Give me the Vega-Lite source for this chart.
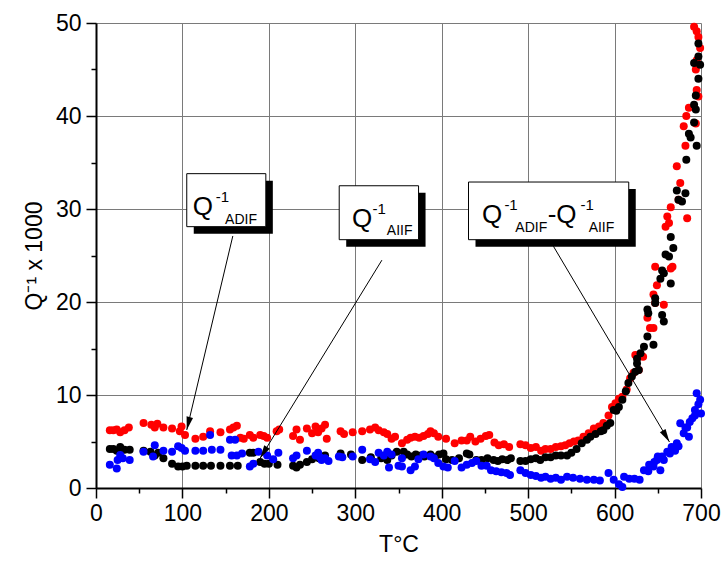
{
  "$schema": "https://vega.github.io/schema/vega-lite/v6.json",
  "width": 605,
  "height": 465,
  "autosize": {"type": "none"},
  "padding": {"left": 96, "top": 23, "right": 25, "bottom": 74},
  "background": "white",
  "config": {"view": {"stroke": null}, "font": "Liberation Sans"},
  "datasets": {
    "pts": [
      {"s":"r","t":16,"q":6.2},{"s":"r","t":20,"q":6.2},{"s":"r","t":24,"q":6.3},{"s":"r","t":28,"q":6.0},{"s":"r","t":33,"q":6.2},{"s":"r","t":38,"q":6.5},{"s":"r","t":55,"q":7.0},{"s":"r","t":64,"q":6.8},{"s":"r","t":68,"q":6.5},{"s":"r","t":71,"q":6.9},{"s":"r","t":78,"q":6.5},{"s":"r","t":88,"q":6.4},{"s":"r","t":97,"q":6.1},{"s":"r","t":99,"q":6.6},{"s":"r","t":103,"q":5.7},{"s":"r","t":115,"q":5.3},{"s":"r","t":124,"q":5.5},{"s":"r","t":132,"q":6.1},{"s":"r","t":144,"q":6.0},{"s":"r","t":155,"q":6.3},{"s":"r","t":159,"q":6.5},{"s":"r","t":163,"q":6.7},{"s":"r","t":167,"q":5.4},{"s":"r","t":171,"q":5.3},{"s":"r","t":178,"q":5.7},{"s":"r","t":182,"q":5.4},{"s":"r","t":190,"q":5.7},{"s":"r","t":194,"q":5.6},{"s":"r","t":198,"q":5.4},{"s":"r","t":209,"q":6.1},{"s":"r","t":212,"q":6.3},{"s":"r","t":228,"q":5.6},{"s":"r","t":232,"q":6.3},{"s":"r","t":236,"q":5.2},{"s":"r","t":244,"q":6.4},{"s":"r","t":250,"q":5.9},{"s":"r","t":254,"q":6.6},{"s":"r","t":257,"q":6.0},{"s":"r","t":261,"q":6.4},{"s":"r","t":265,"q":6.8},{"s":"r","t":267,"q":5.3},{"s":"r","t":283,"q":6.1},{"s":"r","t":287,"q":5.8},{"s":"r","t":297,"q":6.0},{"s":"r","t":308,"q":6.1},{"s":"r","t":317,"q":6.3},{"s":"r","t":323,"q":6.5},{"s":"r","t":327,"q":6.2},{"s":"r","t":333,"q":6.0},{"s":"r","t":337,"q":5.8},{"s":"r","t":342,"q":5.3},{"s":"r","t":346,"q":5.5},{"s":"r","t":354,"q":4.8},{"s":"r","t":360,"q":5.2},{"s":"r","t":364,"q":5.4},{"s":"r","t":369,"q":5.5},{"s":"r","t":374,"q":5.4},{"s":"r","t":379,"q":5.6},{"s":"r","t":384,"q":5.8},{"s":"r","t":387,"q":6.1},{"s":"r","t":391,"q":5.9},{"s":"r","t":396,"q":5.5},{"s":"r","t":405,"q":5.3},{"s":"r","t":415,"q":4.8},{"s":"r","t":423,"q":5.1},{"s":"r","t":429,"q":5.1},{"s":"r","t":433,"q":5.5},{"s":"r","t":439,"q":5.0},{"s":"r","t":445,"q":5.3},{"s":"r","t":451,"q":5.6},{"s":"r","t":455,"q":5.7},{"s":"r","t":461,"q":4.9},{"s":"r","t":466,"q":4.6},{"s":"r","t":472,"q":4.7},{"s":"r","t":478,"q":4.4},{"s":"r","t":491,"q":4.7},{"s":"r","t":497,"q":4.6},{"s":"r","t":503,"q":4.3},{"s":"r","t":509,"q":4.4},{"s":"r","t":515,"q":4.0},{"s":"r","t":520,"q":4.2},{"s":"r","t":526,"q":4.2},{"s":"r","t":532,"q":4.4},{"s":"r","t":538,"q":4.5},{"s":"r","t":543,"q":4.6},{"s":"r","t":548,"q":4.8},{"s":"r","t":553,"q":5.0},{"s":"r","t":558,"q":5.1},{"s":"r","t":564,"q":5.5},{"s":"r","t":570,"q":5.9},{"s":"r","t":576,"q":6.4},{"s":"r","t":582,"q":6.6},{"s":"r","t":587,"q":7.0},{"s":"r","t":593,"q":7.8},{"s":"r","t":597,"q":8.7},{"s":"r","t":601,"q":9.1},{"s":"r","t":605,"q":9.6},{"s":"r","t":609,"q":9.8},{"s":"r","t":614,"q":10.6},{"s":"r","t":618,"q":11.8},{"s":"r","t":622,"q":12.4},{"s":"r","t":624,"q":14.3},{"s":"r","t":628,"q":12.7},{"s":"r","t":633,"q":14.1},{"s":"r","t":638,"q":18.3},{"s":"r","t":641,"q":17.2},{"s":"r","t":645,"q":17.2},{"s":"r","t":645,"q":20.8},{"s":"r","t":647,"q":19.9},{"s":"r","t":649,"q":21.8},{"s":"r","t":647,"q":23.8},{"s":"r","t":657,"q":19.7},{"s":"r","t":665,"q":23.6},{"s":"r","t":667,"q":23.8},{"s":"r","t":659,"q":28.1},{"s":"r","t":663,"q":28.5},{"s":"r","t":661,"q":29.2},{"s":"r","t":665,"q":30.2},{"s":"r","t":684,"q":29.0},{"s":"r","t":674,"q":31.0},{"s":"r","t":676,"q":32.8},{"s":"r","t":672,"q":34.6},{"s":"r","t":682,"q":36.8},{"s":"r","t":680,"q":38.9},{"s":"r","t":683,"q":40.0},{"s":"r","t":686,"q":40.9},{"s":"r","t":694,"q":39.2},{"s":"r","t":697,"q":42.1},{"s":"r","t":694,"q":45.0},{"s":"r","t":695,"q":46.0},{"s":"r","t":699,"q":47.3},{"s":"r","t":697,"q":48.5},{"s":"r","t":692,"q":49.6},{"s":"r","t":695,"q":49.1},{"s":"r","t":695,"q":42.8},
      {"s":"k","t":16,"q":4.2},{"s":"k","t":20,"q":4.2},{"s":"k","t":24,"q":4.0},{"s":"k","t":28,"q":4.4},{"s":"k","t":33,"q":4.1},{"s":"k","t":39,"q":4.1},{"s":"k","t":55,"q":4.0},{"s":"k","t":63,"q":3.9},{"s":"k","t":68,"q":3.5},{"s":"k","t":72,"q":3.8},{"s":"k","t":78,"q":3.2},{"s":"k","t":88,"q":2.6},{"s":"k","t":95,"q":2.3},{"s":"k","t":100,"q":2.3},{"s":"k","t":105,"q":2.4},{"s":"k","t":115,"q":2.4},{"s":"k","t":124,"q":2.4},{"s":"k","t":133,"q":2.4},{"s":"k","t":144,"q":2.4},{"s":"k","t":155,"q":2.4},{"s":"k","t":164,"q":2.4},{"s":"k","t":178,"q":3.8},{"s":"k","t":182,"q":3.8},{"s":"k","t":190,"q":2.8},{"s":"k","t":195,"q":2.6},{"s":"k","t":200,"q":2.6},{"s":"k","t":210,"q":2.5},{"s":"k","t":228,"q":2.4},{"s":"k","t":232,"q":2.2},{"s":"k","t":236,"q":2.5},{"s":"k","t":244,"q":2.8},{"s":"k","t":250,"q":3.1},{"s":"k","t":258,"q":3.2},{"s":"k","t":265,"q":3.5},{"s":"k","t":283,"q":3.7},{"s":"k","t":295,"q":3.6},{"s":"k","t":308,"q":3.0},{"s":"k","t":318,"q":3.3},{"s":"k","t":330,"q":3.2},{"s":"k","t":337,"q":3.0},{"s":"k","t":342,"q":3.5},{"s":"k","t":348,"q":3.9},{"s":"k","t":356,"q":3.9},{"s":"k","t":360,"q":3.6},{"s":"k","t":365,"q":3.4},{"s":"k","t":370,"q":3.6},{"s":"k","t":376,"q":3.5},{"s":"k","t":380,"q":3.4},{"s":"k","t":387,"q":3.6},{"s":"k","t":392,"q":3.3},{"s":"k","t":397,"q":3.6},{"s":"k","t":402,"q":3.7},{"s":"k","t":405,"q":3.1},{"s":"k","t":412,"q":3.0},{"s":"k","t":420,"q":3.2},{"s":"k","t":429,"q":3.7},{"s":"k","t":432,"q":3.6},{"s":"k","t":440,"q":3.0},{"s":"k","t":446,"q":3.0},{"s":"k","t":453,"q":3.2},{"s":"k","t":460,"q":3.0},{"s":"k","t":465,"q":2.9},{"s":"k","t":470,"q":3.1},{"s":"k","t":476,"q":3.0},{"s":"k","t":480,"q":3.2},{"s":"k","t":491,"q":2.9},{"s":"k","t":497,"q":2.9},{"s":"k","t":503,"q":3.1},{"s":"k","t":509,"q":3.2},{"s":"k","t":514,"q":3.0},{"s":"k","t":520,"q":3.3},{"s":"k","t":526,"q":3.3},{"s":"k","t":532,"q":3.5},{"s":"k","t":538,"q":3.5},{"s":"k","t":545,"q":3.5},{"s":"k","t":550,"q":3.8},{"s":"k","t":556,"q":4.2},{"s":"k","t":562,"q":4.8},{"s":"k","t":568,"q":5.2},{"s":"k","t":572,"q":5.5},{"s":"k","t":578,"q":5.8},{"s":"k","t":584,"q":6.1},{"s":"k","t":587,"q":6.2},{"s":"k","t":591,"q":6.7},{"s":"k","t":595,"q":7.0},{"s":"k","t":599,"q":8.4},{"s":"k","t":602,"q":8.3},{"s":"k","t":605,"q":8.7},{"s":"k","t":609,"q":9.5},{"s":"k","t":613,"q":10.4},{"s":"k","t":616,"q":11.3},{"s":"k","t":620,"q":12.0},{"s":"k","t":624,"q":12.5},{"s":"k","t":626,"q":13.4},{"s":"k","t":628,"q":12.7},{"s":"k","t":626,"q":13.9},{"s":"k","t":630,"q":14.5},{"s":"k","t":634,"q":15.2},{"s":"k","t":638,"q":16.3},{"s":"k","t":645,"q":15.4},{"s":"k","t":639,"q":18.8},{"s":"k","t":638,"q":19.2},{"s":"k","t":647,"q":19.9},{"s":"k","t":655,"q":18.6},{"s":"k","t":657,"q":17.9},{"s":"k","t":647,"q":20.4},{"s":"k","t":653,"q":22.5},{"s":"k","t":665,"q":22.0},{"s":"k","t":657,"q":23.1},{"s":"k","t":655,"q":23.4},{"s":"k","t":659,"q":25.1},{"s":"k","t":663,"q":24.9},{"s":"k","t":668,"q":25.8},{"s":"k","t":665,"q":27.0},{"s":"k","t":674,"q":31.0},{"s":"k","t":672,"q":32.0},{"s":"k","t":682,"q":31.7},{"s":"k","t":678,"q":30.8},{"s":"k","t":683,"q":35.3},{"s":"k","t":686,"q":38.1},{"s":"k","t":688,"q":37.7},{"s":"k","t":692,"q":39.3},{"s":"k","t":695,"q":36.8},{"s":"k","t":694,"q":40.7},{"s":"k","t":692,"q":41.2},{"s":"k","t":694,"q":42.2},{"s":"k","t":697,"q":44.0},{"s":"k","t":692,"q":45.7},{"s":"k","t":697,"q":46.4},{"s":"k","t":699,"q":45.5},{"s":"k","t":697,"q":47.8},
      {"s":"b","t":16,"q":2.5},{"s":"b","t":24,"q":2.1},{"s":"b","t":25,"q":3.0},{"s":"b","t":28,"q":3.55},{"s":"b","t":31,"q":3.2},{"s":"b","t":39,"q":3.0},{"s":"b","t":55,"q":3.9},{"s":"b","t":66,"q":3.4},{"s":"b","t":68,"q":4.6},{"s":"b","t":78,"q":4.0},{"s":"b","t":88,"q":3.9},{"s":"b","t":95,"q":4.5},{"s":"b","t":99,"q":4.3},{"s":"b","t":103,"q":4.0},{"s":"b","t":115,"q":4.0},{"s":"b","t":124,"q":4.0},{"s":"b","t":132,"q":5.7},{"s":"b","t":134,"q":4.1},{"s":"b","t":144,"q":4.1},{"s":"b","t":155,"q":5.2},{"s":"b","t":161,"q":5.2},{"s":"b","t":157,"q":3.5},{"s":"b","t":163,"q":3.5},{"s":"b","t":169,"q":3.7},{"s":"b","t":178,"q":2.3},{"s":"b","t":182,"q":2.6},{"s":"b","t":188,"q":3.9},{"s":"b","t":198,"q":3.5},{"s":"b","t":205,"q":3.1},{"s":"b","t":211,"q":3.8},{"s":"b","t":228,"q":3.2},{"s":"b","t":232,"q":3.5},{"s":"b","t":244,"q":4.0},{"s":"b","t":254,"q":3.5},{"s":"b","t":257,"q":3.8},{"s":"b","t":259,"q":3.3},{"s":"b","t":261,"q":3.0},{"s":"b","t":265,"q":3.2},{"s":"b","t":269,"q":2.9},{"s":"b","t":281,"q":3.4},{"s":"b","t":285,"q":3.3},{"s":"b","t":297,"q":3.4},{"s":"b","t":308,"q":4.1},{"s":"b","t":317,"q":3.1},{"s":"b","t":323,"q":2.8},{"s":"b","t":327,"q":3.8},{"s":"b","t":333,"q":3.5},{"s":"b","t":337,"q":3.9},{"s":"b","t":339,"q":2.2},{"s":"b","t":342,"q":3.6},{"s":"b","t":350,"q":2.4},{"s":"b","t":354,"q":3.2},{"s":"b","t":354,"q":2.3},{"s":"b","t":364,"q":1.9},{"s":"b","t":369,"q":2.3},{"s":"b","t":373,"q":3.1},{"s":"b","t":379,"q":3.6},{"s":"b","t":387,"q":3.4},{"s":"b","t":391,"q":3.2},{"s":"b","t":396,"q":2.7},{"s":"b","t":402,"q":2.3},{"s":"b","t":407,"q":2.2},{"s":"b","t":415,"q":2.9},{"s":"b","t":423,"q":2.2},{"s":"b","t":429,"q":2.5},{"s":"b","t":435,"q":2.7},{"s":"b","t":440,"q":2.9},{"s":"b","t":446,"q":2.4},{"s":"b","t":452,"q":2.4},{"s":"b","t":457,"q":1.9},{"s":"b","t":463,"q":1.8},{"s":"b","t":469,"q":1.7},{"s":"b","t":475,"q":1.6},{"s":"b","t":479,"q":1.4},{"s":"b","t":491,"q":1.9},{"s":"b","t":497,"q":1.6},{"s":"b","t":503,"q":1.4},{"s":"b","t":509,"q":1.3},{"s":"b","t":515,"q":1.1},{"s":"b","t":520,"q":1.2},{"s":"b","t":526,"q":1.0},{"s":"b","t":532,"q":1.1},{"s":"b","t":538,"q":0.9},{"s":"b","t":545,"q":1.2},{"s":"b","t":552,"q":1.1},{"s":"b","t":560,"q":1.0},{"s":"b","t":568,"q":0.9},{"s":"b","t":576,"q":0.9},{"s":"b","t":583,"q":0.8},{"s":"b","t":593,"q":1.6},{"s":"b","t":599,"q":0.9},{"s":"b","t":605,"q":0.4},{"s":"b","t":609,"q":0.1},{"s":"b","t":611,"q":1.2},{"s":"b","t":617,"q":1.0},{"s":"b","t":623,"q":1.0},{"s":"b","t":629,"q":0.9},{"s":"b","t":634,"q":1.9},{"s":"b","t":639,"q":1.8},{"s":"b","t":640,"q":2.5},{"s":"b","t":645,"q":2.3},{"s":"b","t":646,"q":2.8},{"s":"b","t":649,"q":3.0},{"s":"b","t":650,"q":3.4},{"s":"b","t":653,"q":1.9},{"s":"b","t":655,"q":3.4},{"s":"b","t":657,"q":3.0},{"s":"b","t":661,"q":3.9},{"s":"b","t":664,"q":3.7},{"s":"b","t":666,"q":4.4},{"s":"b","t":670,"q":4.0},{"s":"b","t":672,"q":4.8},{"s":"b","t":674,"q":4.5},{"s":"b","t":676,"q":6.95},{"s":"b","t":680,"q":5.9},{"s":"b","t":682,"q":6.5},{"s":"b","t":684,"q":6.5},{"s":"b","t":686,"q":5.5},{"s":"b","t":687,"q":7.1},{"s":"b","t":690,"q":7.5},{"s":"b","t":693,"q":8.4},{"s":"b","t":693,"q":7.8},{"s":"b","t":695,"q":10.2},{"s":"b","t":697,"q":9.0},{"s":"b","t":699,"q":9.5},{"s":"b","t":700,"q":8.0}
    ],
    "arrows": [
      {"id":1,"t":158.3,"q":27.1,"t2":105,"q2":6.24},
      {"id":2,"t":330.8,"q":24.5,"t2":189.9,"q2":3.2},
      {"id":3,"t":529.2,"q":26.0,"t2":663.5,"q2":4.95}
    ],
    "boxes": [
      {"t":105,"t2":196.5,"q":33.8,"q2":28.1},
      {"t":281.4,"t2":373.2,"q":32.5,"q2":26.7},
      {"t":431,"t2":616.4,"q":32.9,"q2":26.7}
    ],
    "big": [
      {"t":112,"q":29.35,"txt":"Q"},
      {"t":296.2,"q":28.1,"txt":"Q"},
      {"t":446.6,"q":28.46,"txt":"Q"},
      {"t":522.6,"q":28.46,"txt":"-Q"}
    ],
    "sup": [
      {"t":138.5,"q":30.8,"txt":"-1"},
      {"t":320,"q":29.5,"txt":"-1"},
      {"t":472.5,"q":29.9,"txt":"-1"},
      {"t":560.5,"q":29.9,"txt":"-1"}
    ],
    "sub": [
      {"t":149.4,"q":28.4,"txt":"ADIF"},
      {"t":336.5,"q":27.2,"txt":"AIIF"},
      {"t":485.2,"q":27.56,"txt":"ADIF"},
      {"t":570,"q":27.56,"txt":"AIIF"}
    ]
  },
  "layer": [
    {
      "data": {"name": "pts"},
      "mark": {"type": "point", "filled": true, "shape": "circle", "size": 64, "opacity": 1, "strokeWidth": 0},
      "encoding": {
        "x": {"field": "t", "type": "quantitative",
          "scale": {"domain": [0, 700], "nice": false, "zero": false},
          "axis": {
            "title": "T°C",
            "values": [0,50,100,150,200,250,300,350,400,450,500,550,600,650,700],
            "labelExpr": "datum.value % 100 === 0 ? datum.label : ''",
            "labelOverlap": false, "labelFlush": false,
            "labelFont": "Liberation Sans", "labelFontSize": 23, "labelColor": "black", "labelPadding": 4,
            "tickSize": {"condition": {"test": "datum.value % 100 !== 0", "value": 5}, "value": 10},
            "tickColor": "black", "tickWidth": 1.5,
            "domainColor": "black", "domainWidth": 2,
            "grid": true, "gridColor": "#7a7a7a", "gridWidth": 1,
            "gridOpacity": {"condition": {"test": "datum.value % 100 !== 0", "value": 0}, "value": 1},
            "titleFont": "Liberation Sans", "titleFontSize": 23, "titleFontWeight": "normal", "titleColor": "black", "titlePadding": 8
          }},
        "y": {"field": "q", "type": "quantitative",
          "scale": {"domain": [0, 50], "nice": false},
          "axis": {
            "title": "Q⁻¹ x 1000",
            "values": [0,5,10,15,20,25,30,35,40,45,50],
            "labelExpr": "datum.value % 10 === 0 ? datum.label : ''",
            "labelOverlap": false, "labelFlush": false,
            "labelFont": "Liberation Sans", "labelFontSize": 23, "labelColor": "black", "labelPadding": 5,
            "tickSize": {"condition": {"test": "datum.value % 10 !== 0", "value": 5}, "value": 10},
            "tickColor": "black", "tickWidth": 1.5,
            "domainColor": "black", "domainWidth": 2,
            "grid": true, "gridColor": "#7a7a7a", "gridWidth": 1,
            "gridOpacity": {"condition": {"test": "datum.value % 10 !== 0", "value": 0}, "value": 1},
            "titleFont": "Liberation Sans", "titleFontSize": 23, "titleFontWeight": "normal", "titleColor": "black", "titlePadding": 9
          }},
        "color": {"field": "s", "type": "nominal", "scale": {"domain": ["r","k","b"], "range": ["#ff0000","#000000","#0000ff"]}, "legend": null}
      }
    },
    {
      "data": {"name": "arrows"},
      "mark": {"type": "rule", "color": "black", "strokeWidth": 1},
      "encoding": {
        "x": {"field": "t", "type": "quantitative"},
        "y": {"field": "q", "type": "quantitative"},
        "x2": {"field": "t2"},
        "y2": {"field": "q2"}
      }
    },
    {
      "data": {"name": "arrows"},
      "transform": [{"filter": "datum.id === 1"}],
      "mark": {"type": "point", "filled": true, "color": "black", "opacity": 1, "strokeWidth": 0, "size": 144, "shape": "M0,0L-0.55,2.2L0.55,2.2Z", "angle": 193.3},
      "encoding": {
        "x": {"field": "t2", "type": "quantitative"},
        "y": {"field": "q2", "type": "quantitative"}
      }
    },
    {
      "data": {"name": "arrows"},
      "transform": [{"filter": "datum.id === 2"}],
      "mark": {"type": "point", "filled": true, "color": "black", "opacity": 1, "strokeWidth": 0, "size": 144, "shape": "M0,0L-0.55,2.2L0.55,2.2Z", "angle": 211.6},
      "encoding": {
        "x": {"field": "t2", "type": "quantitative"},
        "y": {"field": "q2", "type": "quantitative"}
      }
    },
    {
      "data": {"name": "arrows"},
      "transform": [{"filter": "datum.id === 3"}],
      "mark": {"type": "point", "filled": true, "color": "black", "opacity": 1, "strokeWidth": 0, "size": 144, "shape": "M0,0L-0.55,2.2L0.55,2.2Z", "angle": 149.4},
      "encoding": {
        "x": {"field": "t2", "type": "quantitative"},
        "y": {"field": "q2", "type": "quantitative"}
      }
    },
    {
      "data": {"name": "boxes"},
      "mark": {"type": "rect", "fill": "black", "xOffset": 7, "x2Offset": 7, "yOffset": 7, "y2Offset": 7},
      "encoding": {
        "x": {"field": "t", "type": "quantitative"},
        "x2": {"field": "t2"},
        "y": {"field": "q", "type": "quantitative"},
        "y2": {"field": "q2"}
      }
    },
    {
      "data": {"name": "boxes"},
      "mark": {"type": "rect", "fill": "white", "stroke": "black", "strokeWidth": 1},
      "encoding": {
        "x": {"field": "t", "type": "quantitative"},
        "x2": {"field": "t2"},
        "y": {"field": "q", "type": "quantitative"},
        "y2": {"field": "q2"}
      }
    },
    {
      "data": {"name": "big"},
      "mark": {"type": "text", "align": "left", "baseline": "alphabetic", "font": "Liberation Sans", "fontSize": 26, "color": "black"},
      "encoding": {
        "x": {"field": "t", "type": "quantitative"},
        "y": {"field": "q", "type": "quantitative"},
        "text": {"field": "txt"}
      }
    },
    {
      "data": {"name": "sup"},
      "mark": {"type": "text", "align": "left", "baseline": "alphabetic", "font": "Liberation Sans", "fontSize": 15, "color": "black"},
      "encoding": {
        "x": {"field": "t", "type": "quantitative"},
        "y": {"field": "q", "type": "quantitative"},
        "text": {"field": "txt"}
      }
    },
    {
      "data": {"name": "sub"},
      "mark": {"type": "text", "align": "left", "baseline": "alphabetic", "font": "Liberation Sans", "fontSize": 14, "color": "black"},
      "encoding": {
        "x": {"field": "t", "type": "quantitative"},
        "y": {"field": "q", "type": "quantitative"},
        "text": {"field": "txt"}
      }
    }
  ]
}
